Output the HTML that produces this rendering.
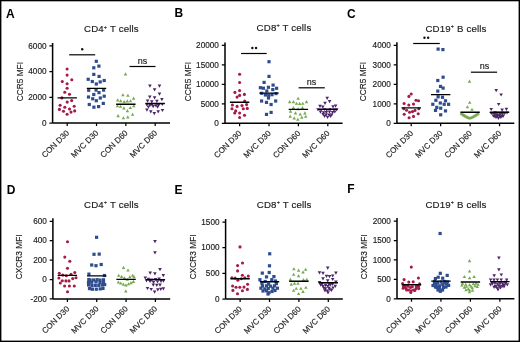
<!DOCTYPE html>
<html><head><meta charset="utf-8"><style>
html,body{margin:0;padding:0;background:#fff;}
svg{display:block;font-family:'Liberation Sans', sans-serif;will-change:transform;filter:blur(0.3px);}
text{fill:#202020;stroke:#202020;stroke-width:0.15px;}
.let{font-size:12.0px;font-weight:bold;fill:#000;stroke:none;}
.tit{font-size:9.7px;letter-spacing:0.15px;}
.sup{font-size:5.6px;}
.tk{font-size:8.2px;text-anchor:end;}
.yl{font-size:8.3px;text-anchor:middle;}
.cat{font-size:8.05px;text-anchor:end;}
.ns{font-size:9.0px;text-anchor:middle;}
</style></head><body>
<svg width="520" height="342" viewBox="0 0 520 342">
<rect x="0" y="0" width="520" height="342" fill="#fff"/>
<g fill="#000"><rect x="0" y="0" width="520" height="1.3"/><rect x="0" y="0" width="1.4" height="342"/><rect x="518.6" y="0" width="1.4" height="342"/><rect x="0" y="340.6" width="520" height="1.4"/></g>
<text class="let" x="6" y="18.4">A</text>
<text class="tit" x="84" y="32">CD4<tspan class="sup" dy="-3.4">+</tspan><tspan dy="3.4"> T cells</tspan></text>
<path d="M52.6 42.9V123M52.6 123H170" stroke="#000" stroke-width="1.5" fill="none"/>
<text class="tk" x="46.5" y="125.75">0</text>
<text class="tk" x="46.5" y="100.05">2000</text>
<text class="tk" x="46.5" y="74.35">4000</text>
<text class="tk" x="46.5" y="48.65">6000</text>
<path d="M49.4 123H52.6 M49.4 97.3H52.6 M49.4 71.6H52.6 M49.4 45.9H52.6 M67.2 123V126 M96.53 123V126 M125.86 123V126 M155.19 123V126" stroke="#000" stroke-width="1.25" fill="none"/>
<text class="yl" transform="translate(22.6 81.6) rotate(-90)">CCR5 MFI</text>
<text class="cat" transform="translate(69.6 133.5) rotate(-45)">CON D30</text>
<text class="cat" transform="translate(98.93 133.5) rotate(-45)">MVC D30</text>
<text class="cat" transform="translate(128.26 133.5) rotate(-45)">CON D60</text>
<text class="cat" transform="translate(157.59 133.5) rotate(-45)">MVC D60</text>
<g fill="#a41b46"><circle cx="67.1" cy="69" r="1.55"/><circle cx="67.1" cy="75.1" r="1.55"/><circle cx="71.8" cy="79.8" r="1.55"/><circle cx="62.3" cy="81.5" r="1.55"/><circle cx="67.1" cy="83.7" r="1.55"/><circle cx="67.1" cy="88.3" r="1.55"/><circle cx="64.8" cy="92.3" r="1.55"/><circle cx="69.5" cy="94.3" r="1.55"/><circle cx="61.9" cy="97.9" r="1.55"/><circle cx="67.2" cy="102.1" r="1.55"/><circle cx="71.7" cy="100.6" r="1.55"/><circle cx="60.1" cy="105.2" r="1.55"/><circle cx="64.8" cy="107.2" r="1.55"/><circle cx="74.2" cy="106.2" r="1.55"/><circle cx="59.4" cy="109.4" r="1.55"/><circle cx="69.5" cy="109" r="1.55"/><circle cx="63.5" cy="111.3" r="1.55"/><circle cx="74.7" cy="110.9" r="1.55"/><circle cx="71" cy="112.1" r="1.55"/><circle cx="67.1" cy="114.2" r="1.55"/></g>
<g fill="#2f4d8e"><rect x="94.7" y="59.7" width="3.2" height="3.2"/><rect x="97.3" y="64.5" width="3.2" height="3.2"/><rect x="92.2" y="66.2" width="3.2" height="3.2"/><rect x="92.2" y="72.8" width="3.2" height="3.2"/><rect x="97.5" y="74.8" width="3.2" height="3.2"/><rect x="86.6" y="77.7" width="3.2" height="3.2"/><rect x="90.7" y="79.9" width="3.2" height="3.2"/><rect x="94.7" y="82.4" width="3.2" height="3.2"/><rect x="98.6" y="80.3" width="3.2" height="3.2"/><rect x="102.6" y="78.9" width="3.2" height="3.2"/><rect x="87.1" y="88.7" width="3.2" height="3.2"/><rect x="94.5" y="88.5" width="3.2" height="3.2"/><rect x="102" y="88.5" width="3.2" height="3.2"/><rect x="97.4" y="91" width="3.2" height="3.2"/><rect x="92.2" y="92.9" width="3.2" height="3.2"/><rect x="86.9" y="95.4" width="3.2" height="3.2"/><rect x="102.6" y="94.6" width="3.2" height="3.2"/><rect x="98.7" y="96.4" width="3.2" height="3.2"/><rect x="91.1" y="97.2" width="3.2" height="3.2"/><rect x="94.7" y="99.1" width="3.2" height="3.2"/><rect x="87.7" y="102.9" width="3.2" height="3.2"/><rect x="92.3" y="105.6" width="3.2" height="3.2"/><rect x="97" y="105" width="3.2" height="3.2"/><rect x="101.7" y="101.8" width="3.2" height="3.2"/></g>
<g fill="#76aa50"><path d="M125.5 72.34L127.25 75.44L123.75 75.44Z"/><path d="M122.9 93.24L124.65 96.34L121.15 96.34Z"/><path d="M127.9 93.64L129.65 96.74L126.15 96.74Z"/><path d="M133.6 96.54L135.35 99.64L131.85 99.64Z"/><path d="M117.7 98.34L119.45 101.44L115.95 101.44Z"/><path d="M120.7 99.04L122.45 102.14L118.95 102.14Z"/><path d="M124.2 99.94L125.95 103.04L122.45 103.04Z"/><path d="M127.3 99.34L129.05 102.44L125.55 102.44Z"/><path d="M130.5 99.14L132.25 102.24L128.75 102.24Z"/><path d="M117.4 104.24L119.15 107.34L115.65 107.34Z"/><path d="M120.5 104.74L122.25 107.84L118.75 107.84Z"/><path d="M123.9 106.34L125.65 109.44L122.15 109.44Z"/><path d="M130.3 105.94L132.05 109.04L128.55 109.04Z"/><path d="M133.8 104.14L135.55 107.24L132.05 107.24Z"/><path d="M127.4 109.04L129.15 112.14L125.65 112.14Z"/><path d="M118.1 114.04L119.85 117.14L116.35 117.14Z"/><path d="M123.4 116.24L125.15 119.34L121.65 119.34Z"/><path d="M127.8 115.34L129.55 118.44L126.05 118.44Z"/><path d="M132.6 112.74L134.35 115.84L130.85 115.84Z"/></g>
<g fill="#4c2668"><path d="M149.9 87.72L151.7 84.52L148.1 84.52Z"/><path d="M159.5 87.72L161.3 84.52L157.7 84.52Z"/><path d="M154.6 91.52L156.4 88.32L152.8 88.32Z"/><path d="M159.5 95.72L161.3 92.52L157.7 92.52Z"/><path d="M149.8 98.72L151.6 95.52L148 95.52Z"/><path d="M154.6 99.42L156.4 96.22L152.8 96.22Z"/><path d="M161.9 101.32L163.7 98.12L160.1 98.12Z"/><path d="M147.6 102.72L149.4 99.52L145.8 99.52Z"/><path d="M151.8 103.42L153.6 100.22L150 100.22Z"/><path d="M156.9 103.02L158.7 99.82L155.1 99.82Z"/><path d="M146.9 106.42L148.7 103.22L145.1 103.22Z"/><path d="M150 106.92L151.8 103.72L148.2 103.72Z"/><path d="M153.2 108.22L155 105.02L151.4 105.02Z"/><path d="M156 107.52L157.8 104.32L154.2 104.32Z"/><path d="M158.6 106.92L160.4 103.72L156.8 103.72Z"/><path d="M162.3 106.12L164.1 102.92L160.5 102.92Z"/><path d="M152 106.52L153.8 103.32L150.2 103.32Z"/><path d="M157.6 108.72L159.4 105.52L155.8 105.52Z"/><path d="M148.4 108.72L150.2 105.52L146.6 105.52Z"/><path d="M146.9 111.72L148.7 108.52L145.1 108.52Z"/><path d="M150.8 113.52L152.6 110.32L149 110.32Z"/><path d="M154.3 115.22L156.1 112.02L152.5 112.02Z"/><path d="M158.2 113.52L160 110.32L156.4 110.32Z"/><path d="M162.4 112.12L164.2 108.92L160.6 108.92Z"/></g>
<path d="M57.5 97.9H76.9 M86.83 88.4H106.23 M116.16 104.3H135.56 M145.49 103.5H164.89" stroke="#000" stroke-width="1.4" fill="none"/>
<path d="M69.2 54.8H95.2" stroke="#000" stroke-width="1.2" fill="none"/>
<circle cx="82.2" cy="49.3" r="1.2" fill="#111"/>
<path d="M129.5 66.5H155.5" stroke="#000" stroke-width="1.2" fill="none"/>
<text class="ns" x="142.5" y="63.6">ns</text>
<text class="let" x="174.6" y="17.4">B</text>
<text class="tit" x="256.6" y="30.6">CD8<tspan class="sup" dy="-3.4">+</tspan><tspan dy="3.4"> T cells</tspan></text>
<path d="M225 42.42V123.3M225 123.3H342.6" stroke="#000" stroke-width="1.5" fill="none"/>
<text class="tk" x="218.9" y="126.05">0</text>
<text class="tk" x="218.9" y="106.58">5000</text>
<text class="tk" x="218.9" y="87.11">10000</text>
<text class="tk" x="218.9" y="67.64">15000</text>
<text class="tk" x="218.9" y="48.17">20000</text>
<path d="M221.8 123.3H225 M221.8 103.83H225 M221.8 84.36H225 M221.8 64.89H225 M221.8 45.42H225 M239.6 123.3V126.3 M269 123.3V126.3 M298.4 123.3V126.3 M327.8 123.3V126.3" stroke="#000" stroke-width="1.25" fill="none"/>
<text class="yl" transform="translate(191 81.6) rotate(-90)">CCR5 MFI</text>
<text class="cat" transform="translate(242 133.8) rotate(-45)">CON D30</text>
<text class="cat" transform="translate(271.4 133.8) rotate(-45)">MVC D30</text>
<text class="cat" transform="translate(300.8 133.8) rotate(-45)">CON D60</text>
<text class="cat" transform="translate(330.2 133.8) rotate(-45)">MVC D60</text>
<g fill="#a41b46"><circle cx="239.6" cy="74.2" r="1.55"/><circle cx="239.6" cy="82.5" r="1.55"/><circle cx="239.6" cy="90.6" r="1.55"/><circle cx="234.9" cy="92.4" r="1.55"/><circle cx="244.4" cy="94.4" r="1.55"/><circle cx="239.6" cy="95.4" r="1.55"/><circle cx="237.1" cy="97.1" r="1.55"/><circle cx="244.7" cy="101" r="1.55"/><circle cx="232.4" cy="105" r="1.55"/><circle cx="237.1" cy="106.4" r="1.55"/><circle cx="242" cy="105.6" r="1.55"/><circle cx="246.6" cy="104.6" r="1.55"/><circle cx="232" cy="108.8" r="1.55"/><circle cx="243.3" cy="108.8" r="1.55"/><circle cx="247.3" cy="108.4" r="1.55"/><circle cx="235.7" cy="110.9" r="1.55"/><circle cx="234.7" cy="113" r="1.55"/><circle cx="239.6" cy="113" r="1.55"/><circle cx="244.5" cy="115.3" r="1.55"/><circle cx="239.6" cy="117.5" r="1.55"/></g>
<g fill="#2f4d8e"><rect x="267.4" y="60.1" width="3.2" height="3.2"/><rect x="267.4" y="74.8" width="3.2" height="3.2"/><rect x="262.5" y="80.8" width="3.2" height="3.2"/><rect x="271.5" y="83.5" width="3.2" height="3.2"/><rect x="266.8" y="85.7" width="3.2" height="3.2"/><rect x="258.8" y="86.1" width="3.2" height="3.2"/><rect x="261.8" y="86.6" width="3.2" height="3.2"/><rect x="275" y="86.7" width="3.2" height="3.2"/><rect x="271.2" y="88" width="3.2" height="3.2"/><rect x="265.2" y="89.4" width="3.2" height="3.2"/><rect x="260.1" y="91.7" width="3.2" height="3.2"/><rect x="274.4" y="92" width="3.2" height="3.2"/><rect x="263.8" y="93.4" width="3.2" height="3.2"/><rect x="267.1" y="93.7" width="3.2" height="3.2"/><rect x="270.4" y="93.1" width="3.2" height="3.2"/><rect x="266.9" y="96.4" width="3.2" height="3.2"/><rect x="260" y="99.4" width="3.2" height="3.2"/><rect x="264.9" y="100.8" width="3.2" height="3.2"/><rect x="269.5" y="102.9" width="3.2" height="3.2"/><rect x="274.1" y="99.4" width="3.2" height="3.2"/><rect x="269.5" y="110.8" width="3.2" height="3.2"/><rect x="264.9" y="112.8" width="3.2" height="3.2"/></g>
<g fill="#76aa50"><path d="M298.1 96.64L299.85 99.74L296.35 99.74Z"/><path d="M289.7 100.04L291.45 103.14L287.95 103.14Z"/><path d="M293.4 100.04L295.15 103.14L291.65 103.14Z"/><path d="M296.5 101.64L298.25 104.74L294.75 104.74Z"/><path d="M299.7 101.84L301.45 104.94L297.95 104.94Z"/><path d="M302.8 101.64L304.55 104.74L301.05 104.74Z"/><path d="M306.5 100.04L308.25 103.14L304.75 103.14Z"/><path d="M293.4 106.04L295.15 109.14L291.65 109.14Z"/><path d="M298.1 107.14L299.85 110.24L296.35 110.24Z"/><path d="M302.5 106.04L304.25 109.14L300.75 109.14Z"/><path d="M290.5 109.54L292.25 112.64L288.75 112.64Z"/><path d="M295.5 111.34L297.25 114.44L293.75 114.44Z"/><path d="M300.2 112.44L301.95 115.54L298.45 115.54Z"/><path d="M304.9 111.34L306.65 114.44L303.15 114.44Z"/><path d="M290.2 114.54L291.95 117.64L288.45 117.64Z"/><path d="M294.2 116.34L295.95 119.44L292.45 119.44Z"/><path d="M297.8 117.64L299.55 120.74L296.05 120.74Z"/><path d="M301.8 115.54L303.55 118.64L300.05 118.64Z"/><path d="M305.7 114.74L307.45 117.84L303.95 117.84Z"/></g>
<g fill="#4c2668"><path d="M327.2 99.92L329 96.72L325.4 96.72Z"/><path d="M329.6 103.32L331.4 100.12L327.8 100.12Z"/><path d="M325 104.92L326.8 101.72L323.2 101.72Z"/><path d="M320 107.92L321.8 104.72L318.2 104.72Z"/><path d="M322.8 108.72L324.6 105.52L321 105.52Z"/><path d="M333 108.42L334.8 105.22L331.2 105.22Z"/><path d="M335.6 107.72L337.4 104.52L333.8 104.52Z"/><path d="M318 111.52L319.8 108.32L316.2 108.32Z"/><path d="M321.1 111.62L322.9 108.42L319.3 108.42Z"/><path d="M324.5 111.12L326.3 107.92L322.7 107.92Z"/><path d="M326.7 111.82L328.5 108.62L324.9 108.62Z"/><path d="M330 111.22L331.8 108.02L328.2 108.02Z"/><path d="M333.9 111.52L335.7 108.32L332.1 108.32Z"/><path d="M336.7 111.52L338.5 108.32L334.9 108.32Z"/><path d="M320.5 113.82L322.3 110.62L318.7 110.62Z"/><path d="M323.5 114.52L325.3 111.32L321.7 111.32Z"/><path d="M326.3 114.32L328.1 111.12L324.5 111.12Z"/><path d="M329.5 113.72L331.3 110.52L327.7 110.52Z"/><path d="M332.6 114.22L334.4 111.02L330.8 111.02Z"/><path d="M334.8 113.62L336.6 110.42L333 110.42Z"/><path d="M323.2 116.32L325 113.12L321.4 113.12Z"/><path d="M326.1 116.72L327.9 113.52L324.3 113.52Z"/><path d="M329.1 116.72L330.9 113.52L327.3 113.52Z"/><path d="M331.7 116.62L333.5 113.42L329.9 113.42Z"/><path d="M324.6 117.92L326.4 114.72L322.8 114.72Z"/><path d="M327.6 118.92L329.4 115.72L325.8 115.72Z"/><path d="M330.6 117.92L332.4 114.72L328.8 114.72Z"/></g>
<path d="M229.9 102.3H249.3 M259.3 93.1H278.7 M288.7 109.4H308.1 M318.1 109.4H337.5" stroke="#000" stroke-width="1.4" fill="none"/>
<path d="M241.1 53.5H266.7" stroke="#000" stroke-width="1.2" fill="none"/>
<circle cx="252.35" cy="48" r="1.2" fill="#111"/>
<circle cx="256.05" cy="48" r="1.2" fill="#111"/>
<path d="M298.6 87.8H324.8" stroke="#000" stroke-width="1.2" fill="none"/>
<text class="ns" x="311.5" y="84.7">ns</text>
<text class="let" x="347" y="18">C</text>
<text class="tit" x="425.4" y="31.8">CD19<tspan class="sup" dy="-3.4">+</tspan><tspan dy="3.4"> B cells</tspan></text>
<path d="M396.9 42.3V123.3M396.9 123.3H514.3" stroke="#000" stroke-width="1.5" fill="none"/>
<text class="tk" x="390.8" y="126.05">0</text>
<text class="tk" x="390.8" y="106.55">1000</text>
<text class="tk" x="390.8" y="87.05">2000</text>
<text class="tk" x="390.8" y="67.55">3000</text>
<text class="tk" x="390.8" y="48.05">4000</text>
<path d="M393.7 123.3H396.9 M393.7 103.8H396.9 M393.7 84.3H396.9 M393.7 64.8H396.9 M393.7 45.3H396.9 M411.2 123.3V126.3 M440.65 123.3V126.3 M470.1 123.3V126.3 M499.55 123.3V126.3" stroke="#000" stroke-width="1.25" fill="none"/>
<text class="yl" transform="translate(366.4 81.6) rotate(-90)">CCR5 MFI</text>
<text class="cat" transform="translate(413.6 133.8) rotate(-45)">CON D30</text>
<text class="cat" transform="translate(443.05 133.8) rotate(-45)">MVC D30</text>
<text class="cat" transform="translate(472.5 133.8) rotate(-45)">CON D60</text>
<text class="cat" transform="translate(501.95 133.8) rotate(-45)">MVC D60</text>
<g fill="#a41b46"><circle cx="411.2" cy="94" r="1.55"/><circle cx="408.9" cy="96.4" r="1.55"/><circle cx="416" cy="100.3" r="1.55"/><circle cx="418.5" cy="100.8" r="1.55"/><circle cx="404.1" cy="103.5" r="1.55"/><circle cx="408.8" cy="105" r="1.55"/><circle cx="413.5" cy="104.1" r="1.55"/><circle cx="403.8" cy="108.8" r="1.55"/><circle cx="406.6" cy="110.3" r="1.55"/><circle cx="409.6" cy="112.2" r="1.55"/><circle cx="412.5" cy="111.6" r="1.55"/><circle cx="415" cy="110.4" r="1.55"/><circle cx="418.8" cy="108.8" r="1.55"/><circle cx="404.2" cy="114.3" r="1.55"/><circle cx="418.2" cy="113.8" r="1.55"/><circle cx="413.5" cy="116.4" r="1.55"/><circle cx="409.1" cy="117.8" r="1.55"/></g>
<g fill="#2f4d8e"><rect x="436.5" y="47.5" width="3.2" height="3.2"/><rect x="441.3" y="48" width="3.2" height="3.2"/><rect x="441.5" y="75.6" width="3.2" height="3.2"/><rect x="436.2" y="78.9" width="3.2" height="3.2"/><rect x="438.9" y="84.8" width="3.2" height="3.2"/><rect x="441.5" y="86.5" width="3.2" height="3.2"/><rect x="436.2" y="89.5" width="3.2" height="3.2"/><rect x="436.5" y="95.2" width="3.2" height="3.2"/><rect x="440.9" y="95.7" width="3.2" height="3.2"/><rect x="434.3" y="98.7" width="3.2" height="3.2"/><rect x="443.9" y="99.2" width="3.2" height="3.2"/><rect x="431.2" y="102.7" width="3.2" height="3.2"/><rect x="438.7" y="101.4" width="3.2" height="3.2"/><rect x="442.6" y="102.7" width="3.2" height="3.2"/><rect x="447" y="102.7" width="3.2" height="3.2"/><rect x="435.2" y="105.8" width="3.2" height="3.2"/><rect x="439.1" y="106.6" width="3.2" height="3.2"/><rect x="433.9" y="108.8" width="3.2" height="3.2"/><rect x="443.9" y="109.3" width="3.2" height="3.2"/><rect x="439.1" y="113.2" width="3.2" height="3.2"/></g>
<g fill="#76aa50"><path d="M469.5 79.54L471.25 82.64L467.75 82.64Z"/><path d="M469.7 100.64L471.45 103.74L467.95 103.74Z"/><path d="M467.4 105.14L469.15 108.24L465.65 108.24Z"/><path d="M472 107.74L473.75 110.84L470.25 110.84Z"/><path d="M461.3 111.74L463.05 114.84L459.55 114.84Z"/><path d="M463.3 113.04L465.05 116.14L461.55 116.14Z"/><path d="M465.3 114.34L467.05 117.44L463.55 117.44Z"/><path d="M467.4 115.44L469.15 118.54L465.65 118.54Z"/><path d="M469.7 116.34L471.45 119.44L467.95 119.44Z"/><path d="M472 115.44L473.75 118.54L470.25 118.54Z"/><path d="M474.1 114.34L475.85 117.44L472.35 117.44Z"/><path d="M476.1 113.04L477.85 116.14L474.35 116.14Z"/><path d="M478.1 111.74L479.85 114.84L476.35 114.84Z"/><path d="M462.3 112.44L464.05 115.54L460.55 115.54Z"/><path d="M464.3 113.74L466.05 116.84L462.55 116.84Z"/><path d="M466.4 114.94L468.15 118.04L464.65 118.04Z"/><path d="M468.5 115.94L470.25 119.04L466.75 119.04Z"/><path d="M470.9 115.94L472.65 119.04L469.15 119.04Z"/><path d="M473 114.94L474.75 118.04L471.25 118.04Z"/><path d="M475.1 113.74L476.85 116.84L473.35 116.84Z"/><path d="M477.1 112.44L478.85 115.54L475.35 115.54Z"/></g>
<g fill="#4c2668"><path d="M496.2 92.22L498 89.02L494.4 89.02Z"/><path d="M501.1 96.62L502.9 93.42L499.3 93.42Z"/><path d="M498.7 106.12L500.5 102.92L496.9 102.92Z"/><path d="M491.2 111.12L493 107.92L489.4 107.92Z"/><path d="M502.1 111.82L503.9 108.62L500.3 108.62Z"/><path d="M506.4 110.92L508.2 107.72L504.6 107.72Z"/><path d="M491.2 115.12L493 111.92L489.4 111.92Z"/><path d="M494.8 116.22L496.6 113.02L493 113.02Z"/><path d="M497.3 117.12L499.1 113.92L495.5 113.92Z"/><path d="M499.8 116.42L501.6 113.22L498 113.22Z"/><path d="M502.3 115.92L504.1 112.72L500.5 112.72Z"/><path d="M504.8 115.12L506.6 111.92L503 111.92Z"/><path d="M507 114.62L508.8 111.42L505.2 111.42Z"/><path d="M493.4 117.72L495.2 114.52L491.6 114.52Z"/><path d="M496 119.12L497.8 115.92L494.2 115.92Z"/><path d="M498.4 119.92L500.2 116.72L496.6 116.72Z"/><path d="M500.8 119.12L502.6 115.92L499 115.92Z"/><path d="M503.3 117.72L505.1 114.52L501.5 114.52Z"/><path d="M495 114.52L496.8 111.32L493.2 111.32Z"/><path d="M497 114.92L498.8 111.72L495.2 111.72Z"/><path d="M500 114.92L501.8 111.72L498.2 111.72Z"/><path d="M502.7 114.72L504.5 111.52L500.9 111.52Z"/><path d="M493 115.12L494.8 111.92L491.2 111.92Z"/><path d="M497.5 118.32L499.3 115.12L495.7 115.12Z"/><path d="M499.6 118.12L501.4 114.92L497.8 114.92Z"/><path d="M494.8 118.22L496.6 115.02L493 115.02Z"/><path d="M502 118.32L503.8 115.12L500.2 115.12Z"/></g>
<path d="M401.5 107.9H420.9 M430.95 94.6H450.35 M460.4 112.2H479.8 M489.85 112.2H509.25" stroke="#000" stroke-width="1.4" fill="none"/>
<path d="M413.2 43.5H439.8" stroke="#000" stroke-width="1.2" fill="none"/>
<circle cx="424.45" cy="37.7" r="1.2" fill="#111"/>
<circle cx="428.15" cy="37.7" r="1.2" fill="#111"/>
<path d="M470.9 72.2H497.1" stroke="#000" stroke-width="1.2" fill="none"/>
<text class="ns" x="484.6" y="69.4">ns</text>
<text class="let" x="6.8" y="194.2">D</text>
<text class="tit" x="84" y="207.8">CD4<tspan class="sup" dy="-3.4">+</tspan><tspan dy="3.4"> T cells</tspan></text>
<path d="M52.9 218.3V298.9M52.9 298.9H170.2" stroke="#000" stroke-width="1.5" fill="none"/>
<text class="tk" x="46.8" y="301.65">-200</text>
<text class="tk" x="46.8" y="282.25">0</text>
<text class="tk" x="46.8" y="262.85">200</text>
<text class="tk" x="46.8" y="243.45">400</text>
<text class="tk" x="46.8" y="224.05">600</text>
<path d="M49.7 298.9H52.9 M49.7 279.5H52.9 M49.7 260.1H52.9 M49.7 240.7H52.9 M49.7 221.3H52.9 M67.4 298.9V301.9 M96.73 298.9V301.9 M126.06 298.9V301.9 M155.39 298.9V301.9" stroke="#000" stroke-width="1.25" fill="none"/>
<text class="yl" transform="translate(22.4 256.8) rotate(-90)">CXCR3 MFI</text>
<text class="cat" transform="translate(69.8 309.4) rotate(-45)">CON D30</text>
<text class="cat" transform="translate(99.13 309.4) rotate(-45)">MVC D30</text>
<text class="cat" transform="translate(128.46 309.4) rotate(-45)">CON D60</text>
<text class="cat" transform="translate(157.79 309.4) rotate(-45)">MVC D60</text>
<g fill="#a41b46"><circle cx="67.5" cy="241.7" r="1.55"/><circle cx="64.8" cy="257.1" r="1.55"/><circle cx="69.8" cy="261.3" r="1.55"/><circle cx="67.5" cy="268.2" r="1.55"/><circle cx="59.3" cy="273.2" r="1.55"/><circle cx="74.8" cy="272.5" r="1.55"/><circle cx="71" cy="274.2" r="1.55"/><circle cx="62.8" cy="275.1" r="1.55"/><circle cx="66.3" cy="275.7" r="1.55"/><circle cx="58.9" cy="278" r="1.55"/><circle cx="76" cy="277.7" r="1.55"/><circle cx="72.7" cy="278.6" r="1.55"/><circle cx="62.3" cy="280.8" r="1.55"/><circle cx="65.9" cy="280.9" r="1.55"/><circle cx="69" cy="280.9" r="1.55"/><circle cx="60.3" cy="283" r="1.55"/><circle cx="64.6" cy="286" r="1.55"/><circle cx="69.4" cy="286" r="1.55"/><circle cx="74.3" cy="286" r="1.55"/><circle cx="67.5" cy="291.8" r="1.55"/></g>
<g fill="#2f4d8e"><rect x="95" y="235.7" width="3.2" height="3.2"/><rect x="92.4" y="252.7" width="3.2" height="3.2"/><rect x="97.6" y="252.5" width="3.2" height="3.2"/><rect x="90.1" y="263.4" width="3.2" height="3.2"/><rect x="94.4" y="264.1" width="3.2" height="3.2"/><rect x="99.6" y="262.9" width="3.2" height="3.2"/><rect x="87.3" y="272.5" width="3.2" height="3.2"/><rect x="102.8" y="273.9" width="3.2" height="3.2"/><rect x="88.4" y="278.5" width="3.2" height="3.2"/><rect x="91.8" y="278.4" width="3.2" height="3.2"/><rect x="95.4" y="278.1" width="3.2" height="3.2"/><rect x="98.4" y="278.5" width="3.2" height="3.2"/><rect x="90.1" y="280.7" width="3.2" height="3.2"/><rect x="94.4" y="280.3" width="3.2" height="3.2"/><rect x="87" y="283.4" width="3.2" height="3.2"/><rect x="90.3" y="284" width="3.2" height="3.2"/><rect x="93.7" y="283.8" width="3.2" height="3.2"/><rect x="97.2" y="283.8" width="3.2" height="3.2"/><rect x="100.7" y="283.4" width="3.2" height="3.2"/><rect x="103.1" y="283" width="3.2" height="3.2"/><rect x="90.8" y="287.6" width="3.2" height="3.2"/><rect x="94.7" y="287.6" width="3.2" height="3.2"/><rect x="98.6" y="287.3" width="3.2" height="3.2"/><rect x="101.9" y="278.2" width="3.2" height="3.2"/><rect x="87.2" y="277.9" width="3.2" height="3.2"/><rect x="86.9" y="280.9" width="3.2" height="3.2"/><rect x="98.4" y="280.9" width="3.2" height="3.2"/><rect x="101.9" y="280.9" width="3.2" height="3.2"/><rect x="87.9" y="287" width="3.2" height="3.2"/><rect x="101.4" y="286.8" width="3.2" height="3.2"/></g>
<g fill="#76aa50"><path d="M123.5 265.84L125.25 268.94L121.75 268.94Z"/><path d="M128 268.44L129.75 271.54L126.25 271.54Z"/><path d="M118.7 273.64L120.45 276.74L116.95 276.74Z"/><path d="M121.6 274.84L123.35 277.94L119.85 277.94Z"/><path d="M124.4 276.14L126.15 279.24L122.65 279.24Z"/><path d="M129.8 275.14L131.55 278.24L128.05 278.24Z"/><path d="M132.7 273.74L134.45 276.84L130.95 276.84Z"/><path d="M134 275.04L135.75 278.14L132.25 278.14Z"/><path d="M127.2 277.74L128.95 280.84L125.45 280.84Z"/><path d="M118.4 280.44L120.15 283.54L116.65 283.54Z"/><path d="M120.8 281.44L122.55 284.54L119.05 284.54Z"/><path d="M123.4 282.54L125.15 285.64L121.65 285.64Z"/><path d="M126 283.34L127.75 286.44L124.25 286.44Z"/><path d="M128.6 282.24L130.35 285.34L126.85 285.34Z"/><path d="M131 281.04L132.75 284.14L129.25 284.14Z"/><path d="M133.4 279.84L135.15 282.94L131.65 282.94Z"/><path d="M125.8 289.34L127.55 292.44L124.05 292.44Z"/></g>
<g fill="#4c2668"><path d="M155 243.32L156.8 240.12L153.2 240.12Z"/><path d="M155 254.42L156.8 251.22L153.2 251.22Z"/><path d="M160 271.22L161.8 268.02L158.2 268.02Z"/><path d="M150.2 274.82L152 271.62L148.4 271.62Z"/><path d="M154.9 275.52L156.7 272.32L153.1 272.32Z"/><path d="M163.3 277.32L165.1 274.12L161.5 274.12Z"/><path d="M145.3 279.62L147.1 276.42L143.5 276.42Z"/><path d="M148.4 280.92L150.2 277.72L146.6 277.72Z"/><path d="M151.8 281.72L153.6 278.52L150 278.52Z"/><path d="M155.6 281.12L157.4 277.92L153.8 277.92Z"/><path d="M159.1 280.72L160.9 277.52L157.3 277.52Z"/><path d="M163.4 282.82L165.2 279.62L161.6 279.62Z"/><path d="M153.3 286.72L155.1 283.52L151.5 283.52Z"/><path d="M156.8 287.02L158.6 283.82L155 283.82Z"/><path d="M160 286.82L161.8 283.62L158.2 283.62Z"/><path d="M147.5 290.12L149.3 286.92L145.7 286.92Z"/><path d="M151.2 291.12L153 287.92L149.4 287.92Z"/><path d="M154.6 293.72L156.4 290.52L152.8 290.52Z"/><path d="M157.8 291.52L159.6 288.32L156 288.32Z"/><path d="M160.8 290.92L162.6 287.72L159 287.72Z"/><path d="M163.4 290.42L165.2 287.22L161.6 287.22Z"/><path d="M146.5 282.42L148.3 279.22L144.7 279.22Z"/><path d="M150 283.12L151.8 279.92L148.2 279.92Z"/><path d="M157.5 283.42L159.3 280.22L155.7 280.22Z"/><path d="M161 282.92L162.8 279.72L159.2 279.72Z"/><path d="M153.5 283.92L155.3 280.72L151.7 280.72Z"/></g>
<path d="M57.7 275.4H77.1 M87.03 275.9H106.43 M116.36 279.4H135.76 M145.69 279.6H165.09" stroke="#000" stroke-width="1.4" fill="none"/>
<text class="let" x="174.6" y="194.2">E</text>
<text class="tit" x="256.8" y="207.6">CD8<tspan class="sup" dy="-3.4">+</tspan><tspan dy="3.4"> T cells</tspan></text>
<path d="M225.6 219V299.1M225.6 299.1H342.8" stroke="#000" stroke-width="1.5" fill="none"/>
<text class="tk" x="219.5" y="301.85">0</text>
<text class="tk" x="219.5" y="276.15">500</text>
<text class="tk" x="219.5" y="250.45">1000</text>
<text class="tk" x="219.5" y="224.75">1500</text>
<path d="M222.4 299.1H225.6 M222.4 273.4H225.6 M222.4 247.7H225.6 M222.4 222H225.6 M240.1 299.1V302.1 M269.5 299.1V302.1 M298.9 299.1V302.1 M328.3 299.1V302.1" stroke="#000" stroke-width="1.25" fill="none"/>
<text class="yl" transform="translate(195.5 256.8) rotate(-90)">CXCR3 MFI</text>
<text class="cat" transform="translate(242.5 309.6) rotate(-45)">CON D30</text>
<text class="cat" transform="translate(271.9 309.6) rotate(-45)">MVC D30</text>
<text class="cat" transform="translate(301.3 309.6) rotate(-45)">CON D60</text>
<text class="cat" transform="translate(330.7 309.6) rotate(-45)">MVC D60</text>
<g fill="#a41b46"><circle cx="240" cy="246.9" r="1.55"/><circle cx="242.5" cy="263" r="1.55"/><circle cx="237.6" cy="265.6" r="1.55"/><circle cx="237.6" cy="270.9" r="1.55"/><circle cx="242.4" cy="275.3" r="1.55"/><circle cx="248.3" cy="276.1" r="1.55"/><circle cx="231.9" cy="277.7" r="1.55"/><circle cx="235.1" cy="278.1" r="1.55"/><circle cx="237.9" cy="280.3" r="1.55"/><circle cx="241.3" cy="278.7" r="1.55"/><circle cx="244.8" cy="277.7" r="1.55"/><circle cx="232.6" cy="286" r="1.55"/><circle cx="236" cy="287.3" r="1.55"/><circle cx="239.8" cy="287.3" r="1.55"/><circle cx="244" cy="287.1" r="1.55"/><circle cx="247.6" cy="284.3" r="1.55"/><circle cx="232.9" cy="290.4" r="1.55"/><circle cx="242.4" cy="290.7" r="1.55"/><circle cx="247.4" cy="289.4" r="1.55"/><circle cx="237.5" cy="293.7" r="1.55"/></g>
<g fill="#2f4d8e"><rect x="268.1" y="252.2" width="3.2" height="3.2"/><rect x="267.9" y="264.2" width="3.2" height="3.2"/><rect x="260.7" y="271.5" width="3.2" height="3.2"/><rect x="267.6" y="270.9" width="3.2" height="3.2"/><rect x="264.9" y="275.3" width="3.2" height="3.2"/><rect x="272.3" y="275" width="3.2" height="3.2"/><rect x="258.3" y="278.1" width="3.2" height="3.2"/><rect x="270.2" y="278.1" width="3.2" height="3.2"/><rect x="260.4" y="282" width="3.2" height="3.2"/><rect x="267" y="282.4" width="3.2" height="3.2"/><rect x="274.8" y="282" width="3.2" height="3.2"/><rect x="259.3" y="286.6" width="3.2" height="3.2"/><rect x="263.2" y="287.3" width="3.2" height="3.2"/><rect x="266.7" y="286.9" width="3.2" height="3.2"/><rect x="271.3" y="286.6" width="3.2" height="3.2"/><rect x="275.8" y="286.6" width="3.2" height="3.2"/><rect x="267.4" y="291.1" width="3.2" height="3.2"/><rect x="264.9" y="289.2" width="3.2" height="3.2"/><rect x="270.4" y="289.9" width="3.2" height="3.2"/><rect x="263.6" y="279.9" width="3.2" height="3.2"/><rect x="273.9" y="279.4" width="3.2" height="3.2"/><rect x="260.9" y="284.4" width="3.2" height="3.2"/><rect x="264.9" y="284.2" width="3.2" height="3.2"/><rect x="268.9" y="284.6" width="3.2" height="3.2"/><rect x="272.9" y="284.2" width="3.2" height="3.2"/><rect x="261.4" y="289.4" width="3.2" height="3.2"/><rect x="273.4" y="288.9" width="3.2" height="3.2"/><rect x="266.4" y="292.4" width="3.2" height="3.2"/></g>
<g fill="#76aa50"><path d="M293.9 267.14L295.65 270.24L292.15 270.24Z"/><path d="M298.6 268.54L300.35 271.64L296.85 271.64Z"/><path d="M305.6 267.74L307.35 270.84L303.85 270.84Z"/><path d="M303 270.34L304.75 273.44L301.25 273.44Z"/><path d="M293.6 272.64L295.35 275.74L291.85 275.74Z"/><path d="M298.6 274.14L300.35 277.24L296.85 277.24Z"/><path d="M290.4 277.64L292.15 280.74L288.65 280.74Z"/><path d="M303.5 277.94L305.25 281.04L301.75 281.04Z"/><path d="M306.8 277.64L308.55 280.74L305.05 280.74Z"/><path d="M291.3 282.54L293.05 285.64L289.55 285.64Z"/><path d="M294.5 281.54L296.25 284.64L292.75 284.64Z"/><path d="M298 281.64L299.75 284.74L296.25 284.74Z"/><path d="M296.2 286.64L297.95 289.74L294.45 289.74Z"/><path d="M300.9 286.64L302.65 289.74L299.15 289.74Z"/><path d="M305.9 285.74L307.65 288.84L304.15 288.84Z"/><path d="M293.6 288.74L295.35 291.84L291.85 291.84Z"/><path d="M303 289.84L304.75 292.94L301.25 292.94Z"/><path d="M298.6 291.94L300.35 295.04L296.85 295.04Z"/></g>
<g fill="#4c2668"><path d="M327.7 269.72L329.5 266.52L325.9 266.52Z"/><path d="M319.5 274.42L321.3 271.22L317.7 271.22Z"/><path d="M323 275.02L324.8 271.82L321.2 271.82Z"/><path d="M335.9 274.72L337.7 271.52L334.1 271.52Z"/><path d="M326.5 277.92L328.3 274.72L324.7 274.72Z"/><path d="M329.5 278.22L331.3 275.02L327.7 275.02Z"/><path d="M332.7 277.62L334.5 274.42L330.9 274.42Z"/><path d="M323 280.52L324.8 277.32L321.2 277.32Z"/><path d="M327.7 282.42L329.5 279.22L325.9 279.22Z"/><path d="M332.7 281.12L334.5 277.92L330.9 277.92Z"/><path d="M319.5 284.22L321.3 281.02L317.7 281.02Z"/><path d="M335.9 283.72L337.7 280.52L334.1 280.52Z"/><path d="M320.7 286.72L322.5 283.52L318.9 283.52Z"/><path d="M323 288.12L324.8 284.92L321.2 284.92Z"/><path d="M327.7 288.12L329.5 284.92L325.9 284.92Z"/><path d="M325.4 290.52L327.2 287.32L323.6 287.32Z"/><path d="M327.4 292.82L329.2 289.62L325.6 289.62Z"/><path d="M330 291.42L331.8 288.22L328.2 288.22Z"/><path d="M333 289.62L334.8 286.42L331.2 286.42Z"/><path d="M335.3 287.92L337.1 284.72L333.5 284.72Z"/><path d="M330.5 286.42L332.3 283.22L328.7 283.22Z"/><path d="M322 285.92L323.8 282.72L320.2 282.72Z"/><path d="M325.5 286.92L327.3 283.72L323.7 283.72Z"/><path d="M329 286.42L330.8 283.22L327.2 283.22Z"/><path d="M332.5 285.92L334.3 282.72L330.7 282.72Z"/><path d="M324 289.92L325.8 286.72L322.2 286.72Z"/><path d="M329 289.92L330.8 286.72L327.2 286.72Z"/><path d="M331.5 291.92L333.3 288.72L329.7 288.72Z"/><path d="M325 292.42L326.8 289.22L323.2 289.22Z"/><path d="M328 294.42L329.8 291.22L326.2 291.22Z"/></g>
<path d="M230.4 278.8H249.8 M259.8 281.8H279.2 M289.2 281.3H308.6 M318.6 282.7H338" stroke="#000" stroke-width="1.4" fill="none"/>
<text class="let" x="347.2" y="193.3">F</text>
<text class="tit" x="425.4" y="207.6">CD19<tspan class="sup" dy="-3.4">+</tspan><tspan dy="3.4"> B cells</tspan></text>
<path d="M397 218.12V298.8M397 298.8H514.4" stroke="#000" stroke-width="1.5" fill="none"/>
<text class="tk" x="390.9" y="301.55">0</text>
<text class="tk" x="390.9" y="282.13">500</text>
<text class="tk" x="390.9" y="262.71">1000</text>
<text class="tk" x="390.9" y="243.29">1500</text>
<text class="tk" x="390.9" y="223.87">2000</text>
<path d="M393.8 298.8H397 M393.8 279.38H397 M393.8 259.96H397 M393.8 240.54H397 M393.8 221.12H397 M411.5 298.8V301.8 M440.95 298.8V301.8 M470.4 298.8V301.8 M499.85 298.8V301.8" stroke="#000" stroke-width="1.25" fill="none"/>
<text class="yl" transform="translate(366.7 256.8) rotate(-90)">CXCR3 MFI</text>
<text class="cat" transform="translate(413.9 309.3) rotate(-45)">CON D30</text>
<text class="cat" transform="translate(443.35 309.3) rotate(-45)">MVC D30</text>
<text class="cat" transform="translate(472.8 309.3) rotate(-45)">CON D60</text>
<text class="cat" transform="translate(502.25 309.3) rotate(-45)">MVC D60</text>
<g fill="#a41b46"><circle cx="411.3" cy="267.1" r="1.55"/><circle cx="418.4" cy="278" r="1.55"/><circle cx="404.1" cy="279.6" r="1.55"/><circle cx="408.8" cy="282.1" r="1.55"/><circle cx="413.2" cy="281.8" r="1.55"/><circle cx="402.6" cy="283.6" r="1.55"/><circle cx="419.6" cy="283.9" r="1.55"/><circle cx="404.9" cy="286.6" r="1.55"/><circle cx="408" cy="286.3" r="1.55"/><circle cx="412.3" cy="286.8" r="1.55"/><circle cx="416.4" cy="286.5" r="1.55"/><circle cx="403.2" cy="288.3" r="1.55"/><circle cx="418.7" cy="288.6" r="1.55"/><circle cx="406.6" cy="290" r="1.55"/><circle cx="410.8" cy="292.5" r="1.55"/><circle cx="414.8" cy="290.5" r="1.55"/><circle cx="403.5" cy="286.5" r="1.55"/><circle cx="406" cy="288.5" r="1.55"/><circle cx="408.5" cy="290" r="1.55"/><circle cx="411" cy="290.8" r="1.55"/><circle cx="413.5" cy="290" r="1.55"/><circle cx="416" cy="288.5" r="1.55"/><circle cx="418.5" cy="286.5" r="1.55"/><circle cx="405" cy="285.5" r="1.55"/><circle cx="417" cy="285.5" r="1.55"/><circle cx="410.5" cy="287.5" r="1.55"/></g>
<g fill="#2f4d8e"><rect x="438.5" y="231.9" width="3.2" height="3.2"/><rect x="438.7" y="271.7" width="3.2" height="3.2"/><rect x="445.6" y="273.8" width="3.2" height="3.2"/><rect x="433.8" y="277" width="3.2" height="3.2"/><rect x="436.6" y="275.6" width="3.2" height="3.2"/><rect x="441.1" y="276.6" width="3.2" height="3.2"/><rect x="431.4" y="283.9" width="3.2" height="3.2"/><rect x="434.6" y="283" width="3.2" height="3.2"/><rect x="438" y="284.2" width="3.2" height="3.2"/><rect x="441.2" y="282.8" width="3.2" height="3.2"/><rect x="444.8" y="282.4" width="3.2" height="3.2"/><rect x="447" y="283.8" width="3.2" height="3.2"/><rect x="432.9" y="281.4" width="3.2" height="3.2"/><rect x="443.2" y="281" width="3.2" height="3.2"/><rect x="437.8" y="286.6" width="3.2" height="3.2"/><rect x="438.7" y="289.7" width="3.2" height="3.2"/><rect x="435.4" y="285.9" width="3.2" height="3.2"/><rect x="432.9" y="279.9" width="3.2" height="3.2"/><rect x="435.9" y="280.9" width="3.2" height="3.2"/><rect x="439.4" y="280.4" width="3.2" height="3.2"/><rect x="442.9" y="279.9" width="3.2" height="3.2"/><rect x="445.9" y="280.4" width="3.2" height="3.2"/><rect x="433.9" y="285.4" width="3.2" height="3.2"/><rect x="441.9" y="285.9" width="3.2" height="3.2"/><rect x="444.4" y="285.4" width="3.2" height="3.2"/><rect x="436.4" y="288.4" width="3.2" height="3.2"/><rect x="440.9" y="288.4" width="3.2" height="3.2"/></g>
<g fill="#76aa50"><path d="M469.5 259.04L471.25 262.14L467.75 262.14Z"/><path d="M469.5 269.44L471.25 272.54L467.75 272.54Z"/><path d="M464.4 274.94L466.15 278.04L462.65 278.04Z"/><path d="M469.6 276.24L471.35 279.34L467.85 279.34Z"/><path d="M474.1 274.94L475.85 278.04L472.35 278.04Z"/><path d="M461.9 283.34L463.65 286.44L460.15 286.44Z"/><path d="M465.7 282.64L467.45 285.74L463.95 285.74Z"/><path d="M469.6 283.04L471.35 286.14L467.85 286.14Z"/><path d="M473.4 282.04L475.15 285.14L471.65 285.14Z"/><path d="M477.3 284.94L479.05 288.04L475.55 288.04Z"/><path d="M464.4 285.54L466.15 288.64L462.65 288.64Z"/><path d="M468.3 287.14L470.05 290.24L466.55 290.24Z"/><path d="M472.2 286.24L473.95 289.34L470.45 289.34Z"/><path d="M469.6 288.44L471.35 291.54L467.85 291.54Z"/><path d="M476 281.64L477.75 284.74L474.25 284.74Z"/><path d="M462.5 281.64L464.25 284.74L460.75 284.74Z"/><path d="M466.5 284.64L468.25 287.74L464.75 287.74Z"/><path d="M471 284.64L472.75 287.74L469.25 287.74Z"/><path d="M475 284.14L476.75 287.24L473.25 287.24Z"/><path d="M466 288.14L467.75 291.24L464.25 291.24Z"/><path d="M472.5 288.64L474.25 291.74L470.75 291.74Z"/><path d="M469.5 290.14L471.25 293.24L467.75 293.24Z"/><path d="M478 282.64L479.75 285.74L476.25 285.74Z"/></g>
<g fill="#4c2668"><path d="M498.9 259.72L500.7 256.52L497.1 256.52Z"/><path d="M498.9 271.52L500.7 268.32L497.1 268.32Z"/><path d="M494.2 277.42L496 274.22L492.4 274.22Z"/><path d="M501.3 276.62L503.1 273.42L499.5 273.42Z"/><path d="M490.6 281.62L492.4 278.42L488.8 278.42Z"/><path d="M494 281.82L495.8 278.62L492.2 278.62Z"/><path d="M497.4 281.62L499.2 278.42L495.6 278.42Z"/><path d="M501.2 281.62L503 278.42L499.4 278.42Z"/><path d="M506.7 281.62L508.5 278.42L504.9 278.42Z"/><path d="M490.6 286.42L492.4 283.22L488.8 283.22Z"/><path d="M504.1 286.72L505.9 283.52L502.3 283.52Z"/><path d="M507.3 286.42L509.1 283.22L505.5 283.22Z"/><path d="M494.1 289.02L495.9 285.82L492.3 285.82Z"/><path d="M497.3 289.92L499.1 286.72L495.5 286.72Z"/><path d="M500.5 289.62L502.3 286.42L498.7 286.42Z"/><path d="M495 284.92L496.8 281.72L493.2 281.72Z"/><path d="M500 285.12L501.8 281.92L498.2 281.92Z"/><path d="M492.5 285.42L494.3 282.22L490.7 282.22Z"/><path d="M497.5 285.72L499.3 282.52L495.7 282.52Z"/><path d="M502.5 285.52L504.3 282.32L500.7 282.32Z"/><path d="M505.5 284.92L507.3 281.72L503.7 281.72Z"/><path d="M498.8 287.42L500.6 284.22L497 284.22Z"/><path d="M495.5 287.92L497.3 284.72L493.7 284.72Z"/><path d="M502.2 287.92L504 284.72L500.4 284.72Z"/><path d="M492 284.42L493.8 281.22L490.2 281.22Z"/><path d="M496 288.42L497.8 285.22L494.2 285.22Z"/><path d="M500 288.42L501.8 285.22L498.2 285.22Z"/><path d="M504 288.42L505.8 285.22L502.2 285.22Z"/><path d="M498 291.42L499.8 288.22L496.2 288.22Z"/><path d="M506 283.92L507.8 280.72L504.2 280.72Z"/></g>
<path d="M401.8 284.8H421.2 M431.25 281.1H450.65 M460.7 282H480.1 M490.15 281.6H509.55" stroke="#000" stroke-width="1.4" fill="none"/>
</svg>
</body></html>
